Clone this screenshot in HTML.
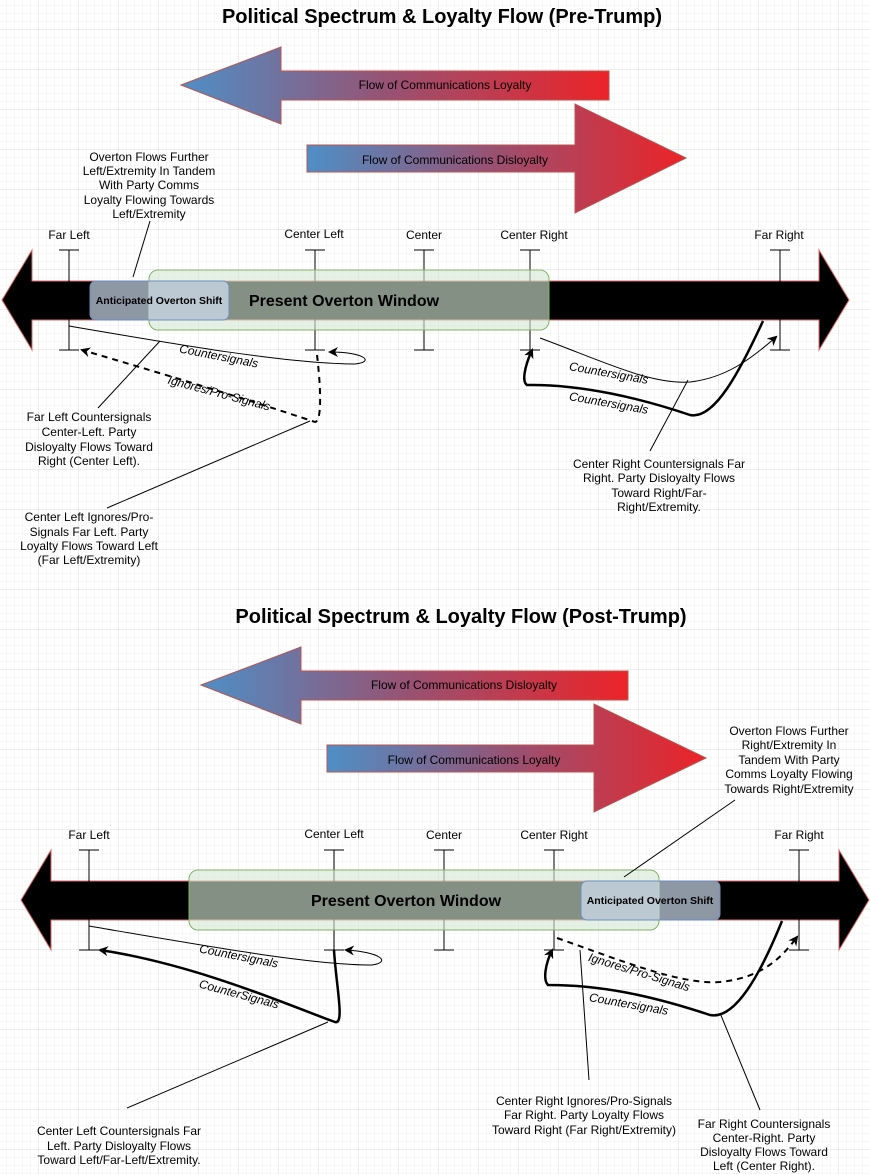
<!DOCTYPE html>
<html><head><meta charset="utf-8"><style>
html,body{margin:0;padding:0;background:#fff}
svg{display:block}
text{font-family:"Liberation Sans",sans-serif}
</style></head><body>
<svg width="870" height="1174" xmlns="http://www.w3.org/2000/svg">
<defs>
<pattern id="minor" width="8" height="8" patternUnits="userSpaceOnUse" x="-1" y="-2"><path d="M8 0V8M0 8H8" stroke="#f0f0f0" stroke-width="1" fill="none"/></pattern>
<pattern id="major" width="40" height="40" patternUnits="userSpaceOnUse" x="-1" y="-10"><path d="M40 0V40M0 40H40" stroke="#dcdcdc" stroke-width="1" fill="none"/></pattern>
<linearGradient id="g" x1="0" x2="1" y1="0" y2="0"><stop offset="0" stop-color="#4e8fc6"/><stop offset="0.5" stop-color="#9a5070"/><stop offset="1" stop-color="#ec2328"/></linearGradient>
<marker id="ah" markerWidth="10" markerHeight="10" refX="8" refY="5" orient="auto" markerUnits="userSpaceOnUse"><path d="M0,0 L10,5 L0,10 L3,5 Z" fill="#000"/></marker>
</defs>
<rect width="870" height="1174" fill="url(#minor)"/>
<rect width="870" height="1174" fill="url(#major)"/>

<!-- ============ TOP ============ -->
<text x="442" y="23" font-size="20" font-weight="bold" text-anchor="middle">Political Spectrum &amp; Loyalty Flow (Pre-Trump)</text>
<path d="M181,85 L281,47 L281,71 L609,71 L609,100 L281,100 L281,124 Z" fill="url(#g)" stroke="#b85450" stroke-width="1"/>
<text x="445" y="89" font-size="12" text-anchor="middle">Flow of Communications Loyalty</text>
<path d="M307,145 L575,145 L575,104 L686,158 L575,213 L575,172 L307,172 Z" fill="url(#g)" stroke="#b85450" stroke-width="1"/>
<text x="455" y="164" font-size="12" text-anchor="middle">Flow of Communications Disloyalty</text>

<path d="M2,300 L32,250 L32,281 L819,281 L819,250 L849,300 L819,350 L819,320 L32,320 L32,350 Z" fill="#000" stroke="#e06666" stroke-width="1"/>
<g stroke="#000" stroke-width="1">
<path d="M69,250V350M59,250H79M59,350H79"/>
<path d="M315,250V350M305,250H325M305,350H325"/>
<path d="M424,250V350M414,250H434M414,350H434"/>
<path d="M530,250V350M520,250H540M520,350H540"/>
<path d="M780,250V350M770,250H790M770,350H790"/>
</g>
<g font-size="12" text-anchor="middle">
<text x="69" y="239">Far Left</text><text x="314" y="238">Center Left</text><text x="424" y="239">Center</text><text x="534" y="239">Center Right</text><text x="779" y="239">Far Right</text>
</g>
<rect x="149" y="270" width="400" height="60" rx="9" fill="#d5e8d4" fill-opacity="0.62" stroke="#82b366"/>
<rect x="90" y="281" width="139" height="39" rx="6" fill="#dae8fc" fill-opacity="0.65" stroke="#6c8ebf"/>
<text x="344" y="306" font-size="16" font-weight="bold" text-anchor="middle">Present Overton Window</text>
<text x="159" y="304" font-size="10.5" font-weight="bold" text-anchor="middle">Anticipated Overton Shift</text>

<g fill="none" stroke="#000">
<path d="M69,326 C180,345 290,364 355,364 C375,362 365,352 330,352" marker-end="url(#ah)"/>
<path d="M317,355 C320,380 323,421 315,422 C250,400 150,370 82,350" stroke-width="2" stroke-dasharray="6,5" marker-end="url(#ah)"/>
<path d="M540,338 C600,360 650,385 690,382 C725,378 750,360 776,337" marker-end="url(#ah)"/>
<path d="M763,321 C740,370 715,420 690,415 C640,398 580,384 527,385 C522,382 524,368 532,350" stroke-width="2.5" marker-end="url(#ah)"/>
<path d="M150,221L133,277M98,408L160,341M107,508L310,421M650,451L688,380" stroke-width="1"/>
</g>
<g font-size="12" font-style="italic" text-anchor="middle">
<text transform="translate(218,360) rotate(11)">Countersignals</text>
<text transform="translate(218,397) rotate(15)">Ignores/Pro-Signals</text>
<text transform="translate(608,377) rotate(10)">Countersignals</text>
<text transform="translate(608,407) rotate(10)">Countersignals</text>
</g>
<g font-size="12" text-anchor="middle">
<text x="149" y="161">Overton Flows Further</text><text x="149" y="175">Left/Extremity In Tandem</text><text x="149" y="189">With Party Comms</text><text x="149" y="204">Loyalty Flowing Towards</text><text x="149" y="218">Left/Extremity</text>
<text x="89" y="421">Far Left Countersignals</text><text x="89" y="436">Center-Left. Party</text><text x="89" y="451">Disloyalty Flows Toward</text><text x="89" y="465">Right (Center Left).</text>
<text x="89" y="521">Center Left Ignores/Pro-</text><text x="89" y="536">Signals Far Left. Party</text><text x="89" y="550">Loyalty Flows Toward Left</text><text x="89" y="564">(Far Left/Extremity)</text>
<text x="659" y="468">Center Right Countersignals Far</text><text x="659" y="482">Right. Party Disloyalty Flows</text><text x="659" y="497">Toward Right/Far-</text><text x="659" y="511">Right/Extremity.</text>
</g>

<!-- ============ BOTTOM ============ -->
<text x="461" y="623" font-size="20" font-weight="bold" text-anchor="middle">Political Spectrum &amp; Loyalty Flow (Post-Trump)</text>
<path d="M201,685 L301,647 L301,671 L628,671 L628,700 L301,700 L301,724 Z" fill="url(#g)" stroke="#b85450" stroke-width="1"/>
<text x="464" y="689" font-size="12" text-anchor="middle">Flow of Communications Disloyalty</text>
<path d="M327,745 L594,745 L594,704 L706,758 L594,812 L594,772 L327,772 Z" fill="url(#g)" stroke="#b85450" stroke-width="1"/>
<text x="474" y="764" font-size="12" text-anchor="middle">Flow of Communications Loyalty</text>

<path d="M21,900 L51,850 L51,881 L839,881 L839,850 L869,900 L839,950 L839,920 L51,920 L51,950 Z" fill="#000" stroke="#e06666" stroke-width="1"/>
<g stroke="#000" stroke-width="1">
<path d="M89,850V950M79,850H99M79,950H99"/>
<path d="M334,850V950M324,850H344M324,950H344"/>
<path d="M444,850V950M434,850H454M434,950H454"/>
<path d="M554,850V950M544,850H564M544,950H564"/>
<path d="M799,850V950M789,850H809M789,950H809"/>
</g>
<g font-size="12" text-anchor="middle">
<text x="89" y="839">Far Left</text><text x="334" y="838">Center Left</text><text x="444" y="839">Center</text><text x="554" y="839">Center Right</text><text x="799" y="839">Far Right</text>
</g>
<rect x="189" y="870" width="470" height="60" rx="9" fill="#d5e8d4" fill-opacity="0.62" stroke="#82b366"/>
<rect x="581" y="881" width="139" height="39" rx="6" fill="#dae8fc" fill-opacity="0.65" stroke="#6c8ebf"/>
<text x="406" y="906" font-size="16" font-weight="bold" text-anchor="middle">Present Overton Window</text>
<text x="650" y="904" font-size="10.5" font-weight="bold" text-anchor="middle">Anticipated Overton Shift</text>

<g fill="none" stroke="#000">
<path d="M89,926 C200,945 310,965 372,965 C392,962 380,952 346,950" marker-end="url(#ah)"/>
<path d="M334,950 C336,985 345,1025 335,1022 C300,1010 200,965 100,950" stroke-width="2.5" marker-end="url(#ah)"/>
<path d="M557,938 C620,960 680,985 720,982 C760,978 780,960 797,937" stroke-width="2" stroke-dasharray="6,5" marker-end="url(#ah)"/>
<path d="M782,921 C760,975 735,1020 710,1015 C650,995 600,985 548,985 C543,980 545,965 552,950" stroke-width="2.5" marker-end="url(#ah)"/>
<path d="M624,877L735,800M127,1108L328,1022M589,1080L580,950M760,1110L720,1013" stroke-width="1"/>
</g>
<g font-size="12" font-style="italic" text-anchor="middle">
<text transform="translate(238,960) rotate(11)">Countersignals</text>
<text transform="translate(238,998) rotate(15)">CounterSignals</text>
<text transform="translate(638,976) rotate(17)">Ignores/Pro-Signals</text>
<text transform="translate(628,1008) rotate(10)">Countersignals</text>
</g>
<g font-size="12" text-anchor="middle">
<text x="789" y="735">Overton Flows Further</text><text x="789" y="749">Right/Extremity In</text><text x="789" y="764">Tandem With Party</text><text x="789" y="778">Comms Loyalty Flowing</text><text x="789" y="793">Towards Right/Extremity</text>
<text x="119" y="1135">Center Left Countersignals Far</text><text x="119" y="1150">Left. Party Disloyalty Flows</text><text x="119" y="1164">Toward Left/Far-Left/Extremity.</text>
<text x="584" y="1105">Center Right Ignores/Pro-Signals</text><text x="584" y="1119">Far Right. Party Loyalty Flows</text><text x="584" y="1134">Toward Right (Far Right/Extremity)</text>
<text x="764" y="1128">Far Right Countersignals</text><text x="764" y="1142">Center-Right. Party</text><text x="764" y="1156">Disloyalty Flows Toward</text><text x="764" y="1170">Left (Center Right).</text>
</g>
</svg>
</body></html>
